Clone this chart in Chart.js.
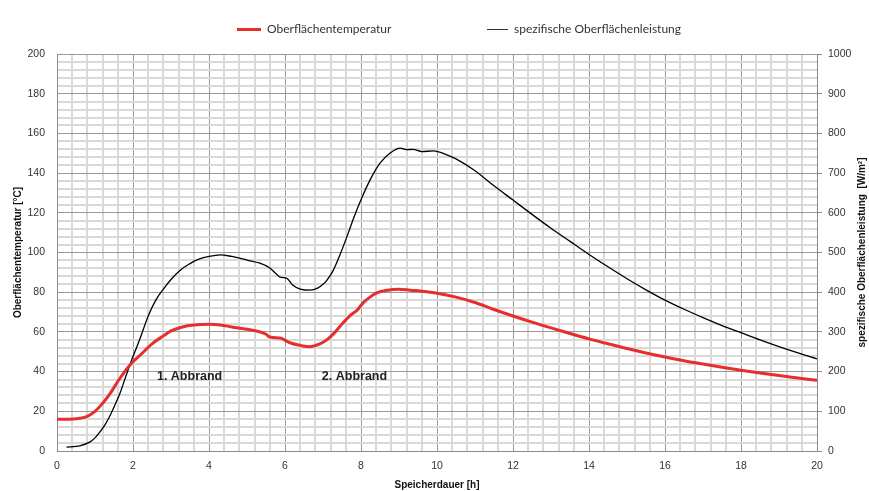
<!DOCTYPE html>
<html>
<head>
<meta charset="utf-8">
<script src="https://cdn.jsdelivr.net/npm/chart.js@4.4.1/dist/chart.umd.min.js"></script>
<style>
  body { margin: 0; background: #fff; }
  #wrap { position: relative; width: 869px; height: 491px; }
  .leg { position: absolute; top: 21px; font-family: "Lato", sans-serif; font-size: 12px; color: #333; white-space: nowrap; }
  .leg span.mark { display: inline-block; vertical-align: middle; margin-right: 6px; }
</style>
</head>
<body>
<div id="wrap">
  <canvas id="ChartSpeicher" width="869" height="491"></canvas>
  <div class="leg" style="left:237px"><span class="mark" style="width:24px;height:3px;background:#e62e2d"></span>Oberflächentemperatur</div>
  <div class="leg" style="left:487px"><span class="mark" style="width:21px;height:1px;background:#333"></span>spezifische Oberflächenleistung</div>
</div>
<script>
// Oberflächentemperatur [°C]
const hoursTemp = [0, 0.3, 0.6, 0.8, 1.0, 1.2, 1.4, 1.6, 1.8, 2.0, 2.2, 2.5, 2.8, 3.0, 3.3, 3.6, 4.0, 4.3, 4.6, 5.0, 5.3, 5.5, 5.6, 5.9, 6.0, 6.15, 6.4, 6.65, 6.9, 7.1, 7.3, 7.5, 7.7, 7.9, 8.05, 8.2, 8.4, 8.7, 9.0, 9.3, 9.6, 10.0, 10.5, 11.0, 11.5, 12.0, 12.5, 13.0, 13.5, 14.0, 14.5, 15.0, 15.5, 16.0, 16.5, 17.0, 17.5, 18.0, 18.5, 19.0, 19.5, 20.0];
const tempValues = [16, 16, 16.5, 17.5, 20, 24, 29, 35, 40.5, 45, 48.5, 54, 58, 60.5, 62.5, 63.5, 63.8, 63.5, 62.5, 61.3, 60.2, 58.8, 57.4, 56.8, 55.8, 54.4, 53.2, 52.5, 53.8, 56, 59.5, 64, 68, 71, 74.5, 77, 79.5, 81, 81.5, 81, 80.5, 79.5, 77.5, 74.8, 71.3, 68, 64.9, 62, 59.2, 56.5, 54, 51.6, 49.4, 47.4, 45.5, 43.8, 42.2, 40.7, 39.3, 38, 36.8, 35.6];

// spezifische Oberflächenleistung [W/m²]
const hoursPower = [0.25, 0.6, 0.87, 1.0, 1.13, 1.27, 1.4, 1.53, 1.66, 1.8, 1.87, 2.0, 2.1, 2.2, 2.4, 2.6, 2.8, 3.0, 3.25, 3.5, 3.7, 4.0, 4.3, 4.6, 4.8, 5.0, 5.34, 5.6, 5.75, 5.87, 6.05, 6.2, 6.4, 6.66, 6.87, 7.0, 7.1, 7.27, 7.45, 7.63, 7.8, 8.0, 8.24, 8.5, 8.76, 9.03, 9.2, 9.37, 9.6, 9.9, 10.26, 10.5, 11.0, 11.5, 12.0, 12.5, 13.0, 13.5, 14.0, 14.5, 15.0, 15.5, 16.0, 16.5, 17.0, 17.5, 18.0, 18.5, 19.0, 19.5, 20.0];
const powerValues = [10, 13, 23, 33, 48, 67, 90, 117, 146, 185, 204, 238, 262, 287, 340, 380, 408, 432, 456, 472, 482, 490, 494, 490, 486, 481, 473, 461, 448, 438, 435, 418, 408, 405, 411, 420, 430, 455, 495, 540, 585, 633, 683, 725, 750, 763, 759, 760, 754, 756, 746, 736, 706, 668, 632, 596, 561, 528, 495, 464, 434, 406, 380, 357, 336, 316, 298, 280, 263, 247, 232];

const labelsAbbrand = ['1. Abbrand', '2. Abbrand'];
const abbrandX = [2.63, 6.97];
const abbrandY = [37.3, 37.3];

const tickFont = { family: 'Liberation Sans', size: 10.5 };
const titleFont = { family: 'Liberation Sans', size: 10, weight: 'bold' };

function isMultiple(v, m) {
    return Math.abs(v / m - Math.round(v / m)) < 1e-6;
}

const annotations = {
    id: 'annotations',
    afterDatasetsDraw(chart) {
        const ctx = chart.ctx;
        const x = chart.scales.x;
        const y = chart.scales.y;
        ctx.save();
        ctx.font = 'bold 12.5px "Liberation Sans"';
        ctx.fillStyle = '#222';
        ctx.textBaseline = 'middle';
        ctx.textAlign = 'left';
        for (var i = 0; i < labelsAbbrand.length; i++) {
            ctx.fillText(labelsAbbrand[i], x.getPixelForValue(abbrandX[i]), y.getPixelForValue(abbrandY[i]));
        }
        // rechte Achsenbeschriftung (von unten nach oben)
        const area = chart.chartArea;
        ctx.translate(862, (area.top + area.bottom) / 2);
        ctx.rotate(-Math.PI / 2);
        ctx.textAlign = 'center';
        ctx.font = 'bold 10px "Liberation Sans"';
        ctx.fillStyle = '#111';
        ctx.fillText('spezifische Oberflächenleistung  [W/m²]', 0, 0);
        ctx.restore();
    }
};

const data = {
    datasets: [{
        label: 'Oberflächentemperatur',
        data: hoursTemp.map((h, i) => ({ x: h, y: tempValues[i] })),
        borderColor: '#e62e2d',
        borderWidth: 3,
        pointRadius: 0,
        cubicInterpolationMode: 'monotone',
        yAxisID: 'y'
    }, {
        label: 'spezifische Oberflächenleistung',
        data: hoursPower.map((h, i) => ({ x: h, y: powerValues[i] })),
        borderColor: '#000',
        borderWidth: 1.3,
        pointRadius: 0,
        cubicInterpolationMode: 'monotone',
        yAxisID: 'y2'
    }]
};

const config = {
    type: 'line',
    data: data,
    options: {
        responsive: false,
        animation: false,
        layout: { padding: { top: 54, left: 0, right: 0, bottom: 0 } },
        plugins: {
            legend: { display: false },
            tooltip: { enabled: false }
        },
        scales: {
            x: {
                type: 'linear',
                min: 0,
                max: 20,
                afterFit: (s) => { s.height = 40; },
                ticks: {
                    stepSize: 0.4,
                    autoSkip: false,
                    maxRotation: 0,
                    padding: 9,
                    color: '#333',
                    font: tickFont,
                    callback: (v) => isMultiple(v, 2) ? Math.round(v) : ''
                },
                grid: {
                    drawTicks: false,
                    color: (c) => isMultiple(c.tick.value, 2) ? '#999' : '#d9d9d9',
                    lineWidth: (c) => isMultiple(c.tick.value, 2) ? 1 : 2
                },
                border: { color: '#8a8a8a' },
                title: {
                    display: true,
                    text: 'Speicherdauer [h]',
                    color: '#111',
                    font: titleFont,
                    padding: { top: 0, bottom: 0 }
                }
            },
            y: {
                position: 'left',
                min: 0,
                max: 200,
                afterFit: (s) => { s.width = 57; },
                ticks: {
                    stepSize: 4,
                    autoSkip: false,
                    padding: 12,
                    color: '#333',
                    font: tickFont,
                    callback: (v) => isMultiple(v, 20) ? Math.round(v) : ''
                },
                grid: {
                    drawTicks: false,
                    color: (c) => isMultiple(c.tick.value, 20) ? '#999' : '#d9d9d9',
                    lineWidth: (c) => isMultiple(c.tick.value, 20) ? 1 : 2
                },
                border: { color: '#8a8a8a' },
                title: {
                    display: true,
                    text: 'Oberflächentemperatur [°C]',
                    color: '#111',
                    font: titleFont,
                    padding: { top: 12, bottom: 0 }
                }
            },
            y2: {
                position: 'right',
                min: 0,
                max: 1000,
                afterFit: (s) => { s.width = 52; },
                ticks: {
                    stepSize: 100,
                    padding: 6,
                    color: '#333',
                    font: tickFont,
                    callback: (v) => String(v)
                },
                grid: {
                    drawOnChartArea: false,
                    drawTicks: true,
                    tickLength: 5,
                    color: '#8a8a8a'
                },
                border: { color: '#8a8a8a' }
            }
        }
    },
    plugins: [annotations]
};

const myChartSpeicher = new Chart(
    document.getElementById('ChartSpeicher'),
    config
);
</script>
</body>
</html>
